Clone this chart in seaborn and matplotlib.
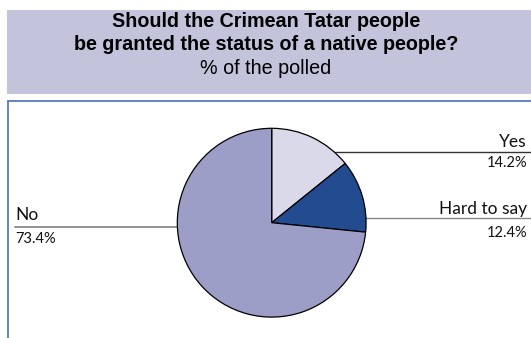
import matplotlib
matplotlib.use("Agg")
import matplotlib.pyplot as plt
import seaborn as sns
from matplotlib.patches import Rectangle
from matplotlib.lines import Line2D

sns.set_theme(style="white")
plt.rcParams['font.family'] = ['Liberation Sans', 'DejaVu Sans']

categories = ["Yes", "Hard to say", "No"]
values = [14.2, 12.4, 73.4]
value_labels = ["14.2%", "12.4%", "73.4%"]
colors = ["#d9d9ea", "#234b8f", "#9c9ec7"]

title_lines = ["Should the Crimean Tatar people",
               "be granted the status of a native people?"]
subtitle = "% of the polled"

W, H = 531, 338
fig = plt.figure(figsize=(W / 100, H / 100), dpi=100)
fig.patch.set_facecolor("white")

# overlay axes in pixel coordinates (y down)
bg = fig.add_axes([0, 0, 1, 1])
bg.set_xlim(0, W)
bg.set_ylim(H, 0)
bg.axis("off")

# header band
bg.add_patch(Rectangle((7, 10), W - 7, 84, facecolor="#c3c3dc", edgecolor="none"))
bg.text(266, 27, title_lines[0], ha="center", va="baseline", fontsize=14.2,
        fontweight="bold", color="black")
bg.text(266, 50, title_lines[1], ha="center", va="baseline", fontsize=14.2,
        fontweight="bold", color="black")
bg.text(266, 74, subtitle, ha="center", va="baseline", fontsize=14.2, color="black")

# box border
bg.add_line(Line2D([7.5, W], [101, 101], color="#5b7bbf", lw=1.3))
bg.add_line(Line2D([7.5, 7.5], [101, H], color="#5b7bbf", lw=1.3))

# pie
cx, cy, r = 271.7, 222.7, 94.4
pax = fig.add_axes([(cx - r) / W, (H - cy - r) / H, 2 * r / W, 2 * r / H])
pax.pie(values, colors=colors, startangle=90, counterclock=False,
        wedgeprops=dict(edgecolor="black", linewidth=0.9))
pax.set_xlim(-1, 1)
pax.set_ylim(-1, 1)
pax.set_aspect("auto")
pax.axis("off")

lab_font = dict(family=["Lato", "DejaVu Sans"], fontweight="normal", color="#111111")

# Yes
bg.add_line(Line2D([335, W], [151.5, 151.5], color="#333333", lw=1.0))
bg.text(527, 147, categories[0], ha="right", va="baseline", fontsize=12.5, **lab_font)
bg.text(527, 167, value_labels[0], ha="right", va="baseline", fontsize=10.5, **lab_font)

# Hard to say
bg.add_line(Line2D([366, W], [218.3, 218.3], color="#888888", lw=1.0))
bg.text(527, 214, categories[1], ha="right", va="baseline", fontsize=12.5, **lab_font)
bg.text(527, 237, value_labels[1], ha="right", va="baseline", fontsize=10.5, **lab_font)

# No
bg.add_line(Line2D([15, 177.5], [226.7, 226.7], color="#888888", lw=1.3))
bg.text(15, 220, categories[2], ha="left", va="baseline", fontsize=12.5, **lab_font)
bg.text(15, 243, value_labels[2], ha="left", va="baseline", fontsize=10.5, **lab_font)

fig.savefig("out.png", dpi=100)
